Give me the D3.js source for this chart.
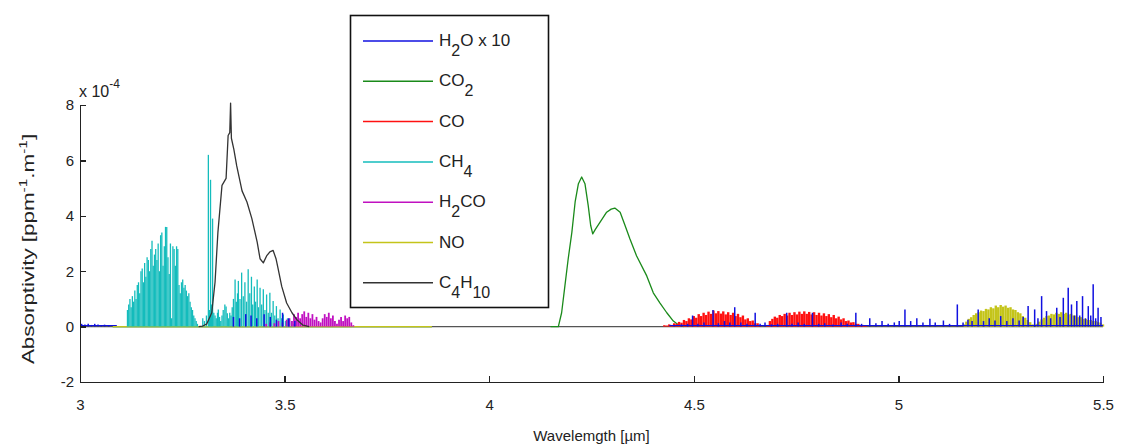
<!DOCTYPE html>
<html lang="en">
<head>
<meta charset="UTF-8">
<title>Absorptivity spectra</title>
<script src="https://d3js.org/d3.v7.min.js"></script>
<style>
  body { margin: 0; background: #fff; }
  svg text { font-family: "Liberation Sans", Arial, sans-serif; fill: #222; }
  .axis path, .axis line { stroke: #222; stroke-width: 1.5; shape-rendering: crispEdges; }
</style>
</head>
<body>
<svg width="1124" height="444"></svg>
<script>
// axis ticks
var xTicks = [3, 3.5, 4, 4.5, 5, 5.5];
var yTicks = [-2, 0, 2, 4, 6, 8];

// legend entries, "_{..}" marks a subscript
var legendLabels = ["H_{2}O x 10", "CO_{2}", "CO", "CH_{4}", "H_{2}CO", "NO", "C_{4}H_{10}"];

// values are absorptivity x 1e-4, wavelength in µm
// H2O (x10) spectral lines
var h2o = [
  [3.004,0.1],[3.012,0.08],[3.020,0.1],[3.028,0.06],[3.036,0.1],[3.044,0.08],[3.052,0.05],[3.060,0.07],[3.070,0.05],
  [3.375,0.35],[3.390,0.3],[3.405,0.45],[3.418,0.4],[3.432,0.3],[3.450,0.45],[3.465,0.35],[3.480,0.25],[3.495,0.5],[3.510,0.3],[3.525,0.2],
  [4.452,0.05],[4.470,0.08],[4.485,0.1],[4.497,0.4],[4.510,0.1],[4.525,0.15],[4.547,0.6],[4.560,0.12],[4.575,0.2],[4.588,0.15],
  [4.600,0.7],[4.615,0.15],[4.630,0.1],[4.650,0.5],[4.662,0.1],[4.674,0.15],[4.690,0.08],[4.705,0.1],[4.727,0.5],[4.740,0.1],
  [4.755,0.15],[4.770,0.1],[4.790,0.5],[4.805,0.1],[4.820,0.12],[4.840,0.08],[4.860,0.15],[4.875,0.1],[4.896,0.5],[4.910,0.1],
  [4.930,0.3],[4.945,0.12],[4.960,0.2],[4.975,0.1],[4.990,0.15],[5.002,0.2],[5.016,0.62],[5.030,0.2],[5.045,0.3],[5.060,0.15],
  [5.077,0.28],[5.090,0.15],[5.110,0.22],[5.125,0.1],[5.144,0.8],[5.158,0.15],[5.170,0.25],[5.180,0.2],[5.195,0.62],[5.208,0.2],
  [5.222,0.3],[5.236,0.22],[5.250,0.38],[5.265,0.2],[5.280,0.3],[5.295,0.22],[5.305,0.35],[5.317,0.74],[5.333,0.62],[5.341,0.3],
  [5.350,1.1],[5.362,0.56],[5.372,0.3],[5.387,0.68],[5.395,0.35],[5.403,1.04],[5.415,1.4],[5.423,0.8],[5.430,0.4],[5.436,0.92],
  [5.443,0.4],[5.450,1.1],[5.457,0.3],[5.464,0.74],[5.470,0.4],[5.476,1.53],[5.482,0.3],[5.488,0.68],[5.495,0.35]
];
var h2oBase = [[3.0,0.04],[3.09,0.04], null, [4.44,0.04],[5.5,0.04]];

// CO2 band (continuous)
var co2 = [
  [3.08,0],[3.86,0], null,
  [4.150,0],[4.169,0],[4.177,0.5],[4.185,1.47],[4.193,2.44],[4.202,3.4],[4.210,4.5],[4.218,5.16],[4.226,5.4],
  [4.234,5.16],[4.242,4.37],[4.248,3.65],[4.253,3.35],[4.259,3.5],[4.271,3.77],[4.287,4.13],[4.298,4.24],[4.307,4.28],
  [4.320,4.13],[4.332,3.65],[4.344,3.16],[4.360,2.56],[4.385,1.83],[4.401,1.22],[4.417,0.86],[4.434,0.5],[4.450,0.2],
  [4.462,0.07],[4.475,0]
];

// CO lines (two branches)
var co = [
  [4.428,0.05],[4.434,0.04],[4.440,0.08],[4.446,0.06],[4.452,0.12],[4.458,0.10],[4.464,0.17],[4.470,0.14],[4.476,0.24],[4.482,0.20],
  [4.488,0.30],[4.494,0.26],[4.500,0.38],[4.506,0.32],[4.512,0.45],[4.518,0.38],[4.524,0.50],[4.530,0.42],[4.536,0.54],[4.542,0.46],
  [4.548,0.58],[4.554,0.48],[4.560,0.56],[4.566,0.47],[4.572,0.55],[4.578,0.44],[4.584,0.52],[4.590,0.42],[4.596,0.50],[4.602,0.38],
  [4.608,0.46],[4.614,0.34],[4.620,0.40],[4.626,0.26],[4.632,0.30],[4.638,0.20],[4.644,0.22],[4.650,0.12],[4.656,0.12],[4.662,0.05],
  [4.680,0.06],[4.686,0.20],[4.692,0.28],[4.698,0.36],[4.704,0.32],[4.710,0.42],[4.716,0.38],[4.722,0.46],[4.728,0.40],[4.734,0.50],
  [4.740,0.42],[4.746,0.52],[4.752,0.44],[4.758,0.54],[4.764,0.46],[4.770,0.55],[4.776,0.46],[4.782,0.53],[4.788,0.44],[4.794,0.52],
  [4.800,0.42],[4.806,0.50],[4.812,0.40],[4.818,0.48],[4.824,0.38],[4.830,0.45],[4.836,0.34],[4.842,0.42],[4.848,0.30],[4.854,0.36],
  [4.860,0.26],[4.866,0.30],[4.872,0.20],[4.878,0.22],[4.884,0.15],[4.890,0.16],[4.896,0.10],[4.902,0.10],[4.908,0.06],[4.914,0.06],
  [4.920,0.04]
];

// CH4 lines: R branch, Q branch, P branch
var ch4 = [
  [3.116,0.6],[3.119,0.8],[3.122,1.0],[3.125,0.7],[3.128,1.1],[3.131,0.9],[3.134,1.3],[3.137,1.0],[3.140,1.5],[3.143,1.6],
  [3.146,1.2],[3.149,2.0],[3.152,2.1],[3.155,1.6],[3.158,2.3],[3.161,1.8],[3.164,2.5],[3.167,2.4],[3.170,2.0],[3.173,2.8],
  [3.176,3.1],[3.179,2.2],[3.182,2.6],[3.185,2.8],[3.188,2.4],[3.191,3.0],[3.194,2.0],[3.197,3.3],[3.200,3.4],[3.203,2.2],
  [3.206,2.9],[3.209,3.6],[3.212,3.6],[3.215,2.5],[3.218,1.9],[3.221,3.0],[3.224,0.3],[3.227,2.9],[3.230,2.8],[3.233,2.2],
  [3.236,2.9],[3.239,2.8],[3.242,1.5],[3.245,1.2],[3.248,1.6],[3.251,1.7],[3.254,1.4],[3.257,1.5],[3.260,1.3],[3.263,1.1],
  [3.266,1.2],[3.269,0.9],[3.272,0.7],[3.275,0.6],[3.278,0.4],[3.281,0.3],[3.284,0.2],[3.287,0.1],
  [3.300,0.3],[3.304,0.2],[3.309,0.4],[3.3137,6.2],[3.3165,0.6],[3.319,5.3],[3.3215,0.8],[3.324,3.9],[3.327,0.5],[3.330,0.4],
  [3.333,0.3],[3.336,0.5],[3.338,0.62],[3.341,0.35],[3.344,0.2],[3.347,0.4],[3.350,0.6],[3.354,0.8],[3.357,0.73],[3.360,0.48],
  [3.363,0.3],[3.366,0.5],[3.369,0.4],[3.372,0.7],[3.375,1.0],[3.379,1.7],[3.382,0.9],[3.385,1.2],[3.387,1.65],[3.391,1.0],
  [3.395,1.95],[3.399,1.1],[3.403,1.6],[3.407,0.9],[3.411,2.07],[3.415,1.2],[3.419,1.8],[3.422,0.8],[3.426,1.45],[3.429,0.9],
  [3.433,1.7],[3.436,0.7],[3.440,1.4],[3.444,0.8],[3.448,1.35],[3.452,0.6],[3.456,1.16],[3.460,0.5],[3.464,1.22],[3.468,0.5],
  [3.472,0.92],[3.476,0.4],[3.480,0.74],[3.484,0.3],[3.489,0.62],[3.493,0.3],[3.497,0.44],[3.502,0.2],[3.507,0.3],[3.512,0.15],
  [3.517,0.2],[3.522,0.1]
];

// H2CO lines
var h2co = [
  [3.455,0.1],[3.465,0.15],[3.475,0.12],[3.485,0.2],[3.495,0.15],[3.505,0.25],[3.512,0.3],[3.518,0.2],[3.523,0.45],[3.528,0.35],
  [3.533,0.5],[3.538,0.3],[3.543,0.45],[3.548,0.55],[3.553,0.35],[3.558,0.5],[3.563,0.3],[3.568,0.45],[3.573,0.25],[3.578,0.35],
  [3.583,0.2],[3.588,0.15],[3.593,0.3],[3.598,0.45],[3.603,0.35],[3.608,0.5],[3.613,0.3],[3.618,0.4],[3.623,0.2],[3.628,0.1],
  [3.633,0.25],[3.638,0.35],[3.643,0.2],[3.648,0.4],[3.653,0.3],[3.658,0.35],[3.663,0.15],[3.668,0.05]
];

// NO lines (two branches)
var no = [
  [5.160,0.08],[5.166,0.18],[5.172,0.28],[5.178,0.34],[5.184,0.42],[5.190,0.48],[5.196,0.52],[5.202,0.58],[5.208,0.56],[5.214,0.64],
  [5.220,0.62],[5.226,0.70],[5.232,0.66],[5.238,0.76],[5.244,0.70],[5.250,0.78],[5.256,0.72],[5.262,0.76],[5.268,0.68],[5.274,0.70],
  [5.280,0.62],[5.286,0.60],[5.292,0.52],[5.298,0.48],[5.304,0.38],[5.310,0.32],[5.316,0.24],[5.322,0.16],[5.328,0.08],
  [5.338,0.10],[5.344,0.18],[5.350,0.26],[5.356,0.32],[5.362,0.38],[5.368,0.40],[5.374,0.46],[5.380,0.44],[5.386,0.50],[5.392,0.46],
  [5.398,0.52],[5.404,0.46],[5.410,0.50],[5.416,0.44],[5.422,0.46],[5.428,0.40],[5.434,0.40],[5.440,0.34],[5.446,0.34],[5.452,0.28],
  [5.458,0.28],[5.464,0.24],[5.470,0.24],[5.476,0.20],[5.482,0.20],[5.488,0.16],[5.494,0.14],[5.500,0.08]
];
var noBase = [[3.08,0],[3.86,0]];

// C4H10 band (continuous)
var c4h10 = [
  [3.29,0],[3.300,0.02],[3.310,0.1],[3.322,0.5],[3.330,1.6],[3.337,3.4],[3.347,5.1],[3.357,5.35],[3.362,6.9],[3.366,7.0],
  [3.368,8.07],[3.370,6.8],[3.376,6.4],[3.383,5.8],[3.396,4.9],[3.408,4.5],[3.420,3.9],[3.433,3.05],[3.440,2.45],[3.448,2.3],
  [3.456,2.55],[3.464,2.7],[3.472,2.75],[3.479,2.45],[3.484,2.1],[3.493,1.45],[3.505,0.85],[3.518,0.5],[3.530,0.25],[3.545,0.05],
  [3.560,0]
];

var colors = {
  h2o: "#1010e0", co2: "#1a8a1a", co: "#ff1010", ch4: "#14bcbc",
  h2co: "#c010c0", no: "#c4c41a", c4h10: "#333333"
};
var legendColors = [colors.h2o, colors.co2, colors.co, colors.ch4, colors.h2co, colors.no, colors.c4h10];

var margin = { top: 105, right: 21, bottom: 62, left: 80 };
var w = 1124, h = 444;
var fontFamily = "Liberation Sans, Arial, sans-serif";

var svg = d3.select("svg");

var x = d3.scaleLinear().domain([3, 5.5]).range([margin.left, w - margin.right]);
var y = d3.scaleLinear().domain([-2, 8]).range([h - margin.bottom, margin.top]);

// zero reference line
svg.append("line")
    .attr("x1", x(3)).attr("x2", x(5.5))
    .attr("y1", y(0)).attr("y2", y(0))
    .attr("stroke", "#555").attr("stroke-width", 1.3);

var line = d3.line()
    .defined(d => d != null)
    .x(d => x(d[0]))
    .y(d => y(d[1]));

function drawLine(data, color, width) {
    svg.append("path")
        .datum(data)
        .attr("d", line)
        .attr("fill", "none")
        .attr("stroke", color)
        .attr("stroke-width", width)
        .attr("stroke-linejoin", "round");
}

function drawSticks(data, color, width) {
    svg.append("g").selectAll("line")
        .data(data)
        .enter().append("line")
        .attr("x1", d => x(d[0])).attr("x2", d => x(d[0]))
        .attr("y1", y(0)).attr("y2", d => y(d[1]))
        .attr("stroke", color)
        .attr("stroke-width", width);
}

drawLine(co2, colors.co2, 1.3);
drawLine(noBase, colors.no, 1.3);
drawSticks(co, colors.co, 2.4);
drawSticks(ch4, colors.ch4, 1.3);
drawSticks(h2co, colors.h2co, 1.8);
drawSticks(no, colors.no, 2.4);
drawLine(h2oBase, colors.h2o, 1.2);
drawSticks(h2o, colors.h2o, 1.5);
drawLine(c4h10, colors.c4h10, 1.3);

// axes (box off, ticks pointing inward)
svg.append("g")
    .attr("class", "axis")
    .attr("transform", "translate(0," + y(-2) + ")")
    .call(d3.axisBottom(x).tickValues(xTicks).tickSize(-6).tickSizeOuter(0).tickPadding(17).tickFormat(d => String(d)))
    .attr("font-size", 15)
    .attr("font-family", fontFamily);

svg.append("g")
    .attr("class", "axis")
    .attr("transform", "translate(" + x(3) + ",0)")
    .call(d3.axisLeft(y).tickValues(yTicks).tickSize(-6).tickSizeOuter(0).tickPadding(6).tickFormat(d => String(d)))
    .attr("font-size", 15)
    .attr("font-family", fontFamily);

// exponent label
var expo = svg.append("text").attr("x", 79).attr("y", 97).attr("font-size", 16);
expo.append("tspan").text("x 10");
expo.append("tspan").attr("dy", -9).attr("font-size", 12).text("-4");

// axis titles
svg.append("text")
    .attr("x", (x(3) + x(5.5)) / 2).attr("y", 441)
    .attr("text-anchor", "middle")
    .attr("font-size", 15)
    .text("Wavelemgth [µm]");

var yl = svg.append("text")
    .attr("transform", "translate(34,249) rotate(-90) scale(1.4,1)")
    .attr("text-anchor", "middle")
    .attr("font-size", 16);
yl.append("tspan").text("Absorptivity [ppm");
yl.append("tspan").attr("dy", -7).attr("font-size", 11).text("-1");
yl.append("tspan").attr("dy", 7).text(".m");
yl.append("tspan").attr("dy", -7).attr("font-size", 11).text("-1");
yl.append("tspan").attr("dy", 7).text("]");

// legend
var lg = svg.append("g");
lg.append("rect")
    .attr("x", 350.5).attr("y", 15.5)
    .attr("width", 198).attr("height", 292)
    .attr("fill", "#fff").attr("stroke", "#111").attr("stroke-width", 1.6);

legendLabels.forEach((label, i) => {
    var ly = 41 + i * 40.3;
    lg.append("line")
        .attr("x1", 363).attr("x2", 433)
        .attr("y1", ly).attr("y2", ly)
        .attr("stroke", legendColors[i]).attr("stroke-width", 1.5);
    var t = lg.append("text").attr("x", 439).attr("y", ly + 5).attr("font-size", 17);
    var shifted = false;
    label.split(/(_\{[^}]*\})/).filter(s => s.length).forEach(part => {
        if (part[0] === "_") {
            t.append("tspan").attr("dy", 10).attr("font-size", 16).text(part.slice(2, -1));
            shifted = true;
        } else {
            var sp = t.append("tspan").text(part);
            if (shifted) { sp.attr("dy", -10); shifted = false; }
        }
    });
});
</script>
</body>
</html>
